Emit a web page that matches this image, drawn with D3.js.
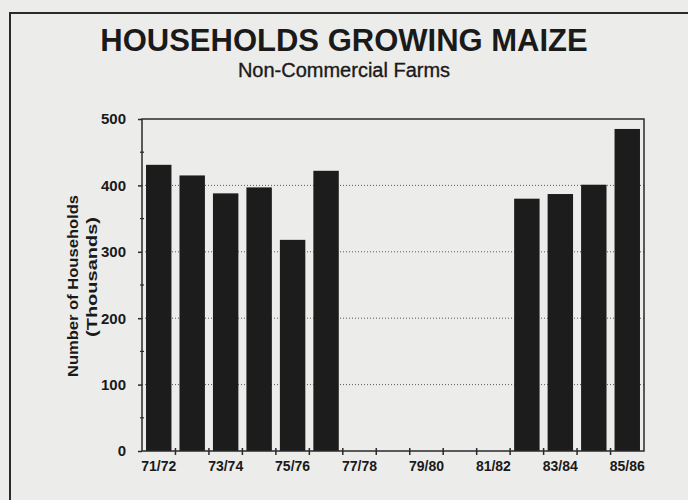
<!DOCTYPE html>
<html>
<head>
<meta charset="utf-8">
<script src="https://cdn.jsdelivr.net/npm/d3@7"></script>
<style>
  html, body { margin: 0; padding: 0; background: #ececea; }
  svg { display: block; }
  text { font-family: "Liberation Sans", Arial, Helvetica, sans-serif; fill: #1a1a1a; }
</style>
</head>
<body>
<svg id="chart" width="688" height="500"></svg>
<script>
// Crop seasons on the category axis
const seasons = ["71/72","72/73","73/74","74/75","75/76","76/77","77/78","78/79",
                 "79/80","80/81","81/82","82/83","83/84","84/85","85/86"];
// Households growing maize (thousands); null = no survey that season
const households = [431, 415, 388, 397, 318, 422, null, null,
                    null, null, null, 380, 387, 401, 485];
// Labelled seasons on the x axis
const seasonTicks = ["71/72","73/74","75/76","77/78","79/80","81/82","83/84","85/86"];
// Value axis
const valueTicks = [0, 100, 200, 300, 400, 500];
const minorTicks = [50, 150, 250, 350, 450];
const gridValues = [100, 200, 300, 400];

const svg = d3.select("#chart");
const W = 688, H = 500;
const plot = { left: 142, right: 644, top: 119, bottom: 451 };

// outer frame (runs off the right and bottom edges)
svg.append("rect")
  .attr("x", 10).attr("y", 13)
  .attr("width", W + 20).attr("height", H + 20)
  .attr("fill", "none").attr("stroke", "#2a2a2a").attr("stroke-width", 2);

// titles
svg.append("text")
  .attr("x", 344).attr("y", 51)
  .attr("text-anchor", "middle")
  .style("font-size", "31px").style("font-weight", "bold")
  .text("HOUSEHOLDS GROWING MAIZE");
svg.append("text")
  .attr("x", 344).attr("y", 77)
  .attr("text-anchor", "middle")
  .style("font-size", "20px")
  .attr("stroke", "#1a1a1a").attr("stroke-width", 0.35)
  .text("Non-Commercial Farms");

const x = d3.scaleBand()
  .domain(seasons)
  .range([plot.left, plot.right])
  .paddingInner(0.24)
  .paddingOuter(0.12);

const y = d3.scaleLinear()
  .domain([0, 500])
  .range([plot.bottom, plot.top]);

// dotted gridlines
svg.append("g")
  .selectAll("line")
  .data(gridValues)
  .join("line")
  .attr("x1", plot.left).attr("x2", plot.right)
  .attr("y1", d => y(d)).attr("y2", d => y(d))
  .attr("stroke", "#5a5a5a")
  .attr("stroke-width", 1)
  .attr("stroke-dasharray", "1,2");

// bars
svg.append("g")
  .selectAll("rect")
  .data(seasons.map((s, i) => ({ season: s, value: households[i] })).filter(d => d.value != null))
  .join("rect")
  .attr("x", d => x(d.season))
  .attr("width", x.bandwidth())
  .attr("y", d => y(d.value))
  .attr("height", d => y(0) - y(d.value))
  .attr("fill", "#1c1c1c");

// plot box
svg.append("rect")
  .attr("x", plot.left).attr("y", plot.top)
  .attr("width", plot.right - plot.left).attr("height", plot.bottom - plot.top)
  .attr("fill", "none").attr("stroke", "#2a2a2a").attr("stroke-width", 1.5);

// y axis
const yAxis = d3.axisLeft(y)
  .tickValues(valueTicks)
  .tickSize(4)
  .tickPadding(12)
  .tickFormat(d3.format("d"));
const gy = svg.append("g")
  .attr("transform", `translate(${plot.left},0)`)
  .call(yAxis);
gy.select(".domain").remove();
gy.selectAll(".tick line").attr("stroke", "#2a2a2a").attr("stroke-width", 1.5);
gy.selectAll(".tick text")
  .style("font-size", "15px").style("font-weight", "bold")
  .style("font-family", "'Liberation Sans', Arial, sans-serif")
  .attr("fill", "#1a1a1a");

// minor ticks on the value axis
svg.append("g")
  .selectAll("line")
  .data(minorTicks)
  .join("line")
  .attr("x1", plot.left - 2).attr("x2", plot.left + 2)
  .attr("y1", d => y(d)).attr("y2", d => y(d))
  .attr("stroke", "#2a2a2a").attr("stroke-width", 1.2);

// x axis: ticks at season boundaries, every other season labelled
const step = x.step();
const boundaries = d3.range(1, seasons.length).map(i => x(seasons[i]) - x.paddingInner() * step / 2);
svg.append("g")
  .selectAll("line")
  .data(boundaries)
  .join("line")
  .attr("x1", d => d).attr("x2", d => d)
  .attr("y1", plot.bottom - 3).attr("y2", plot.bottom + 4)
  .attr("stroke", "#2a2a2a").attr("stroke-width", 1.5);

svg.append("g")
  .selectAll("text")
  .data(seasonTicks)
  .join("text")
  .attr("x", d => x(d) + x.bandwidth() / 2)
  .attr("y", 471)
  .attr("text-anchor", "middle")
  .style("font-size", "14px").style("font-weight", "bold")
  .text(d => d);

// value-axis title
const yTitle = svg.append("g");
yTitle.append("text")
  .attr("transform", "translate(78,286) rotate(-90)")
  .attr("text-anchor", "middle")
  .attr("textLength", 182)
  .attr("lengthAdjust", "spacingAndGlyphs")
  .style("font-size", "15px").style("font-weight", "bold")
  .text("Number of Households");
yTitle.append("text")
  .attr("transform", "translate(97,277) rotate(-90)")
  .attr("text-anchor", "middle")
  .attr("textLength", 120)
  .attr("lengthAdjust", "spacingAndGlyphs")
  .style("font-size", "15px").style("font-weight", "bold")
  .text("(Thousands)");
</script>
</body>
</html>
